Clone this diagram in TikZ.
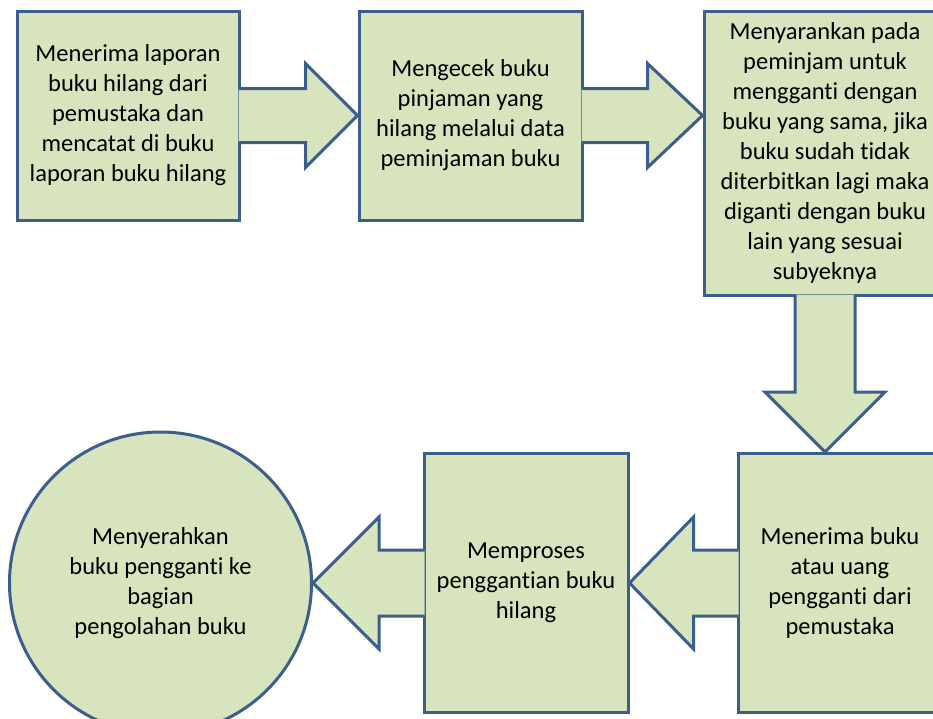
\documentclass[tikz,border=0pt]{standalone}
\usepackage{fontspec}
\setmainfont{Carlito}[Ligatures=NoCommon]
\usepackage{xcolor}
\usetikzlibrary{calc}

\definecolor{stepfill}{HTML}{D7E4BD}
\definecolor{stepline}{HTML}{3B5E8C}

\begin{document}
\begin{tikzpicture}[x=1pt,y=-1pt]
      \tikzstyle{stepbox}=[draw=stepline, line width=3pt, fill=stepfill, align=center, inner sep=0pt, font=\fontsize{24.5}{30}\selectfont]
      \tikzstyle{finalstep}=[stepbox, circle, minimum size=302pt]
      \tikzstyle{flow}=[fill=stepfill]
      \tikzstyle{flow_line}=[draw=stepline, line width=3pt, line join=miter]

      \clip (0,0) rectangle (933,718);

      % upper row
      \node (step1) [stepbox, minimum width=222pt, minimum height=209pt] at (128,115.5)
        {Menerima laporan\\buku hilang dari\\pemustaka dan\\mencatat di buku\\laporan buku hilang};
      \node (step2) [stepbox, minimum width=223pt, minimum height=209pt] at (470.5,115.5)
        {Mengecek buku\\pinjaman yang\\hilang melalui data\\peminjaman buku};
      \node (step3) [stepbox, minimum width=242pt, minimum height=284pt] at (825,153)
        {Menyarankan pada\\peminjam untuk\\mengganti dengan\\buku yang sama, jika\\buku sudah tidak\\diterbitkan lagi maka\\diganti dengan buku\\lain yang sesuai\\subyeknya};

      % lower row
      \node (step4) [stepbox, minimum width=204pt, minimum height=259pt] at (840,583)
        {Menerima buku\\atau uang\\pengganti dari\\pemustaka};
      \node (step5) [stepbox, minimum width=204pt, minimum height=259pt] at (526,583)
        {Memproses\\penggantian buku\\hilang};
      \node (step6) [finalstep] at (160.5,583)
        {Menyerahkan\\buku pengganti ke\\bagian\\pengolahan buku};

      \coordinate (step2_tip) at (step3.west |- step2.east);
      \coordinate (step3_tip) at (step3.south |- step4.north);

      % block arrows
      \foreach \from/\to/\shaft/\head/\len in {step1.east/step2.west/27pt/52pt/52pt,
          step2.east/step2_tip/27pt/52pt/55pt,
          step3.south/step3_tip/30pt/60pt/60pt,
          step4.west/step5.east/33pt/66pt/64pt,
          step5.west/step6.east/33pt/66pt/66pt} {
        \coordinate (start) at ($(\from)!-2pt!(\to)$);
        \coordinate (base) at ($(\to)!\len!(\from)$);
        \fill[flow] ($(start)!\shaft!90:(\to)$) -- ($(base)!\shaft!90:(\to)$) -- ($(base)!\head!90:(\to)$)
          -- (\to) -- ($(base)!\head!-90:(\to)$) -- ($(base)!\shaft!-90:(\to)$) -- ($(start)!\shaft!-90:(\to)$) -- cycle;
        \draw[flow_line] ($(start)!\shaft!90:(\to)$) -- ($(base)!\shaft!90:(\to)$) -- ($(base)!\head!90:(\to)$)
          -- (\to) -- ($(base)!\head!-90:(\to)$) -- ($(base)!\shaft!-90:(\to)$) -- ($(start)!\shaft!-90:(\to)$);
      }
\end{tikzpicture}
\end{document}
